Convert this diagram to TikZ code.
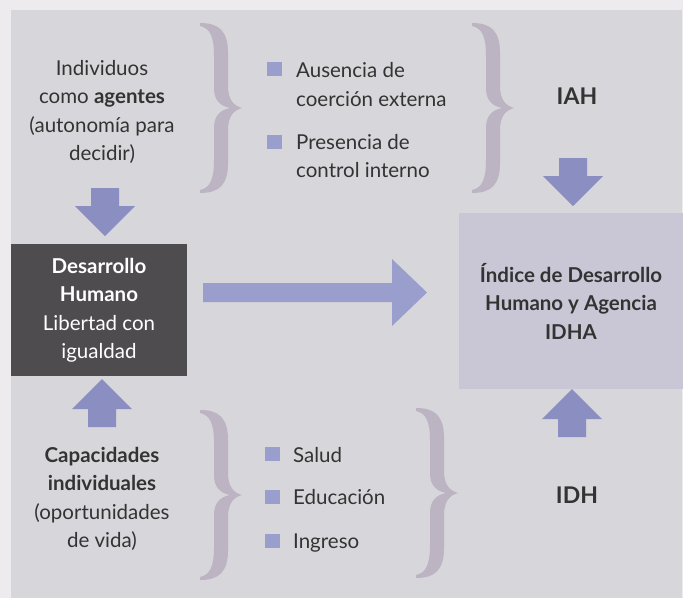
\documentclass[tikz,border=0pt]{standalone}
\usepackage{fontspec}
\setmainfont{Lato}
\definecolor{pageback}{HTML}{EDEBEE}
\definecolor{panelgray}{HTML}{D7D6DA}
\definecolor{bracegray}{HTML}{BCB3C3}
\definecolor{arrowblue}{HTML}{8A8EC0}
\definecolor{arrowlight}{HTML}{9A9ECD}
\definecolor{darkbox}{HTML}{4F4C50}
\definecolor{idhabox}{HTML}{C9C7D6}
\definecolor{txtgray}{HTML}{333333}

\newcommand{\diagfont}{\fontsize{20.5}{28.5}\selectfont}
\tikzset{
  txt/.style={inner sep=0pt, text=txtgray, align=center, font=\diagfont},
  item/.style={txt, align=left},
  idxlabel/.style={txt, font=\fontsize{23}{28}\selectfont\bfseries, anchor=base},
  bulletsq/.style={fill=arrowlight},
  blockarrow/.style={fill=arrowblue},
}

% block arrow pointing along the rotation angle, tip at #1
\newcommand{\blkarrow}[2]{%
  \fill[blockarrow, shift={#1}, rotate=#2]
    (0,0) -- (-30,-30) -- (-30,-14) -- (-48,-14) -- (-48,14) -- (-30,14) -- (-30,30) -- cycle;}

% thick curly brace, top left corner at #1, height #2
\newcommand{\bigbrace}[2]{%
  \fill[bracegray, shift={#1}]
    (0,0) .. controls (19,0) and (28,8) .. (28,30) -- (28,#2/2-22)
    .. controls (28,#2/2-8) and (34,#2/2-2) .. (42,#2/2)
    .. controls (34,#2/2+2) and (28,#2/2+8) .. (28,#2/2+22) -- (28,#2-30)
    .. controls (28,#2-8) and (19,#2) .. (0,#2) -- (0,#2-3)
    .. controls (10,#2-5) and (14,#2-14) .. (14,#2-32) -- (14,#2/2+20)
    .. controls (14,#2/2+8) and (20,#2/2+2) .. (30,#2/2)
    .. controls (20,#2/2-2) and (14,#2/2-8) .. (14,#2/2-20) -- (14,32)
    .. controls (14,14) and (10,5) .. (0,3) -- cycle;}

\begin{document}
\begin{tikzpicture}[x=1pt, y=-1pt]
  \fill[pageback] (0,0) rectangle (683,598);
  \fill[panelgray] (11,10) rectangle (682,598);
  \useasboundingbox (0,0) rectangle (683,598);

  % braces
  \bigbrace{(200,23)}{170}
  \bigbrace{(472,23)}{170}
  \bigbrace{(200,410)}{170}
  \bigbrace{(416,408)}{170}

  % boxes
  \node[fill=darkbox, minimum width=176pt, minimum height=132pt, inner sep=0pt,
        text=white, align=center, font=\diagfont] (dh) at (99,310)
        {\textbf{Desarrollo}\\\textbf{Humano}\\Libertad con\\igualdad};
  \node[fill=idhabox, minimum width=224pt, minimum height=176pt, inner sep=0pt,
        text=txtgray, align=center, font=\diagfont\bfseries] (idha) at (571,301)
        {Índice de Desarrollo\\Humano y Agencia\\IDHA};

  % left texts
  \node[txt] (agentes) at (102,112)
        {Individuos\\como \textbf{agentes}\\(autonomía para\\decidir)};
  \node[txt] (capac) at (102,499)
        {\textbf{Capacidades}\\\textbf{individuales}\\(oportunidades\\de vida)};

  % items
  \fill[bulletsq] (267,62) rectangle (282,76);
  \fill[bulletsq] (267,135) rectangle (282,149);
  \node[item, anchor=west] (ausencia) at (296,84.5) {Ausencia de\\coerción externa};
  \node[item, anchor=west] (presencia) at (296,156) {Presencia de\\control interno};

  \fill[bulletsq] (265,447) rectangle (280,461);
  \fill[bulletsq] (265,490) rectangle (280,504);
  \fill[bulletsq] (265,534) rectangle (280,548);
  \node[item, anchor=base west] (salud) at (293,462) {Salud};
  \node[item, anchor=base west] (educ) at (293,504) {Educación};
  \node[item, anchor=base west] (ingreso) at (293,548) {Ingreso};

  \node[idxlabel] (iah) at (577,104) {IAH};
  \node[idxlabel] (idh) at (577,503) {IDH};

  % arrows
  \blkarrow{(105,236)}{-90}
  \blkarrow{(573,206)}{-90}
  \blkarrow{(102,379)}{90}
  \blkarrow{(572,389)}{90}
  \fill[arrowlight] (203,283) -- (392,283) -- (392,259) -- (427,292.5)
        -- (392,326) -- (392,302) -- (203,302) -- cycle;
\end{tikzpicture}
\end{document}
